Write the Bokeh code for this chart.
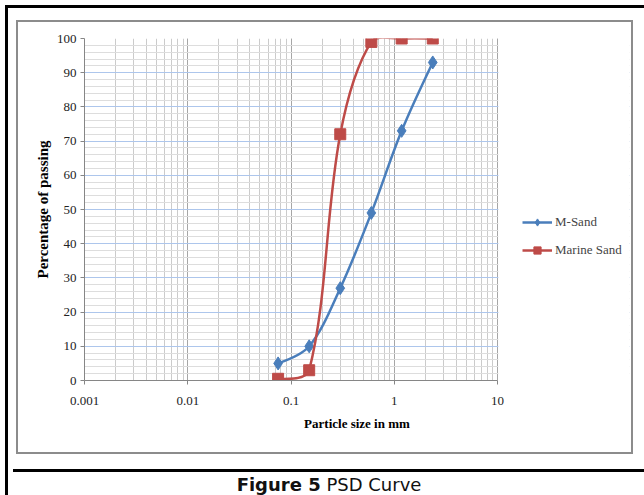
import numpy as np
from bokeh.plotting import figure
from bokeh.layouts import column
from bokeh.models import (LogTicker, SingleIntervalTicker, Range1d, Legend, LegendItem,
                          Div, ColumnDataSource, BoxAnnotation)
from bokeh.embed import file_html
from bokeh.resources import INLINE

# ---- data ----
sizes_mm = [0.075, 0.15, 0.3, 0.6, 1.18, 2.36]
m_sand = [5, 10, 27, 49, 73, 93]
marine_sand = [0.5, 3, 72, 99, 100, 100]
series_names = ["M-Sand", "Marine Sand"]
x_ticks = [0.001, 0.01, 0.1, 1, 10]
x_tick_labels = ["0.001", "0.01", "0.1", "1", "10"]
x_min, x_max = 0.001, 10
y_min, y_max = 0, 100

BLUE = "#4A7EBB"
RED = "#BE4B48"
SERIF = "Liberation Serif"

# geometry: the plot area spans 413 px for 4 decades; the frame is widened to the right
# (blank area holding the legend), so the x range is extended by the same px/decade.
W, H = 613, 430
LEFT, RIGHT, TOP, BOTTOM = 66, 2, 16, 72
frame_w = W - LEFT - RIGHT
frame_h = H - TOP - BOTTOM
px_per_decade = 413 / (np.log10(x_max) - np.log10(x_min))
px_per_unit = frame_h / (y_max - y_min)
x_end = 10 ** (np.log10(x_min) + frame_w / px_per_decade)

p = figure(width=W, height=H, x_axis_type="log", output_backend="svg",
           toolbar_location=None, x_range=Range1d(x_min, x_end), y_range=Range1d(y_min, y_max))
p.min_border_left = LEFT
p.min_border_right = RIGHT
p.min_border_top = TOP
p.min_border_bottom = BOTTOM
p.outline_line_color = None
p.background_fill_color = "white"
p.border_fill_color = "white"

# axes
p.xaxis.ticker = LogTicker(num_minor_ticks=10)
p.xaxis.bounds = (x_min, x_max)
p.xaxis.major_label_overrides = {t: l for t, l in zip(x_ticks, x_tick_labels)}
p.yaxis.ticker = SingleIntervalTicker(interval=10, num_minor_ticks=5)
for ax in (p.xaxis[0], p.yaxis[0]):
    ax.axis_line_color = "#868686"
    ax.major_tick_line_color = "#868686"
    ax.minor_tick_line_color = None
    ax.major_tick_out = 4
    ax.major_tick_in = 0
    ax.major_label_text_font = SERIF
    ax.major_label_text_font_size = "13px"
    ax.major_label_text_color = "#222222"
    ax.axis_label_text_font = SERIF
    ax.axis_label_text_font_style = "bold"
    ax.axis_label_text_color = "#000000"
p.xaxis.axis_label = "Particle size in mm"
p.xaxis.axis_label_text_font_size = "13px"
p.xaxis.major_label_standoff = 12
p.xaxis.axis_label_standoff = 8
p.yaxis.axis_label = "Percentage of passing"
p.yaxis.axis_label_text_font_size = "15px"
p.yaxis.major_label_standoff = 4
p.yaxis.axis_label_standoff = 3

# grids
p.xgrid.grid_line_color = "#a6a6a6"
p.xgrid.minor_grid_line_color = "#cbcbcb"
p.xgrid.bounds = (x_min, x_max)
p.ygrid.grid_line_color = "#adc6ec"
p.ygrid.minor_grid_line_color = "#dddddd"

# blank the area right of the plot area (holds the legend)
p.add_layout(BoxAnnotation(left=x_max * 1.02, fill_color="white", fill_alpha=1,
                           line_color=None))

# smooth (Excel-like) curves: distance-weighted cubic Bezier control points, computed
# in screen-proportional space from the data points
def bezier_segments(xs, ys, t=1/3):
    P = np.column_stack([np.log10(np.asarray(xs, float)) * px_per_decade,
                         np.asarray(ys, float) * px_per_unit])
    n = len(P)
    cb = P.copy(); ca = P.copy()
    for i in range(1, n - 1):
        d01 = np.hypot(*(P[i] - P[i - 1])); d12 = np.hypot(*(P[i + 1] - P[i]))
        tang = P[i + 1] - P[i - 1]
        cb[i] = P[i] - t * d01 / (d01 + d12) * tang
        ca[i] = P[i] + t * d12 / (d01 + d12) * tang
    ca[0] = P[0] + (cb[1] - P[0]) / 3 if n > 2 else P[0]
    cb[-1] = P[-1] + (ca[-2] - P[-1]) / 3 if n > 2 else P[-1]
    to_x = lambda v: 10 ** (v / px_per_decade)
    to_y = lambda v: v / px_per_unit
    seg = dict(x0=[], y0=[], x1=[], y1=[], cx0=[], cy0=[], cx1=[], cy1=[])
    for i in range(n - 1):
        seg["x0"].append(to_x(P[i, 0])); seg["y0"].append(to_y(P[i, 1]))
        seg["x1"].append(to_x(P[i + 1, 0])); seg["y1"].append(to_y(P[i + 1, 1]))
        seg["cx0"].append(to_x(ca[i, 0])); seg["cy0"].append(to_y(ca[i, 1]))
        seg["cx1"].append(to_x(cb[i + 1, 0])); seg["cy1"].append(to_y(cb[i + 1, 1]))
    return ColumnDataSource(seg)

b1 = p.bezier("x0", "y0", "x1", "y1", "cx0", "cy0", "cx1", "cy1",
              source=bezier_segments(sizes_mm, m_sand), line_color=BLUE, line_width=2.5)
s1 = p.scatter(sizes_mm, m_sand, marker="diamond", size=13, color=BLUE)
b2 = p.bezier("x0", "y0", "x1", "y1", "cx0", "cy0", "cx1", "cy1",
              source=bezier_segments(sizes_mm, marine_sand), line_color=RED, line_width=2.5)
s2 = p.scatter(sizes_mm, marine_sand, marker="square", size=11, color=RED)

legend = Legend(items=[LegendItem(label=series_names[0], renderers=[b1, s1]),
                       LegendItem(label=series_names[1], renderers=[b2, s2])],
                location=(438, 121), border_line_color=None, background_fill_alpha=0,
                padding=0, margin=0, spacing=10, glyph_width=30, glyph_height=18,
                label_height=18, label_standoff=3,
                label_text_font=SERIF, label_text_font_size="13px")
p.add_layout(legend, "center")

chart_box = column(p, styles={"border": "2px solid #8c8c8c"})
chart_pad = column(chart_box, styles={"padding-left": "8px", "padding-top": "12px",
                                      "padding-bottom": "10px"})
cap = Div(text='<b>Figure 5</b> PSD Curve', width=632, height=24,
          styles={"border-top": "3px solid black", "font-family": "DejaVu Sans",
                  "font-size": "18px", "text-align": "center", "color": "#111111"})
framed = column(chart_pad, cap, styles={"border-left": "3px solid black",
                                        "border-top": "3px solid black",
                                        "border-right": "3px solid black"})
lay = column(framed, styles={"padding-left": "5px", "padding-top": "5px"})
open("out.html", "w").write(file_html(lay, INLINE))
